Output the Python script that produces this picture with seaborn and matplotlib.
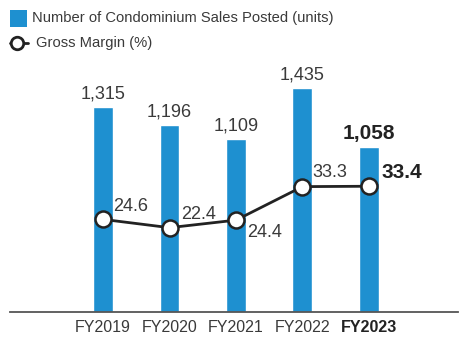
import matplotlib
matplotlib.use("Agg")
import matplotlib.pyplot as plt
from matplotlib.patches import Rectangle
from matplotlib.lines import Line2D
from matplotlib.transforms import Affine2D
import numpy as np
import pandas as pd
import seaborn as sns

years = ["FY2019", "FY2020", "FY2021", "FY2022", "FY2023"]
units = [1315, 1196, 1109, 1435, 1058]
margin = [24.6, 22.4, 24.4, 33.3, 33.4]
unit_labels = ["1,315", "1,196", "1,109", "1,435", "1,058"]
legend_labels = ["Number of Condominium Sales Posted (units)", "Gross Margin (%)"]

sns.set_theme(style="white")
plt.rcParams["font.family"] = ["Liberation Sans", "DejaVu Sans"]

BLUE = "#1e90d0"
TEXT = "#3a3a3a"
DARK = "#222222"

W, H = 461, 342
fig = plt.figure(figsize=(W / 100, H / 100), dpi=100)
ax = fig.add_axes([10 / W, 30 / H, 448 / W, 250 / H])

df = pd.DataFrame({"year": years, "units": units})
sns.barplot(data=df, x="year", y="units", color=BLUE, width=0.30,
            saturation=1, ax=ax)
ax.set_ylim(0, 1600)
ax.set_xlim(-1.40, 5.34)
ax.set_xlabel("")
ax.set_ylabel("")
ax.set_yticks([])
for s in ["top", "right", "left"]:
    ax.spines[s].set_visible(False)
ax.spines["bottom"].set_color("#555555")
ax.spines["bottom"].set_linewidth(1.3)
ax.tick_params(axis="x", length=0, pad=6, labelsize=11.5, colors=TEXT)
for lbl in ax.get_xticklabels():
    if lbl.get_text() == "FY2023":
        lbl.set_fontweight("bold")
        lbl.set_color(DARK)

for i, (v, t) in enumerate(zip(units, unit_labels)):
    last = i == len(units) - 1
    ax.annotate(t, (i, v), xytext=(0, 3), textcoords="offset points",
                ha="center", va="bottom",
                fontsize=15 if last else 13,
                fontweight="bold" if last else "normal",
                color=DARK if last else TEXT)

ax2 = ax.twinx()
xs = np.arange(len(years))
ax2.plot(xs, margin, color=DARK, lw=2, marker="o", ms=11.5,
         mfc="white", mec=DARK, mew=1.8, zorder=5)
ax2.set_ylim(0, 66.4)
ax2.set_yticks([])
for s in ["top", "right", "left", "bottom"]:
    ax2.spines[s].set_visible(False)

offsets = [(7, 3, "bottom"), (8, 3, "bottom"), (8, -3, "top"),
           (7, 4, "bottom"), (9, 10, "center")]
for i, (v, (dx, dy, va)) in enumerate(zip(margin, offsets)):
    last = i == len(margin) - 1
    ax2.annotate(f"{v:.1f}", (i, v), xytext=(dx, dy), textcoords="offset points",
                 ha="left", va=va,
                 fontsize=15 if last else 13,
                 fontweight="bold" if last else "normal",
                 color=DARK if last else TEXT)

# legend drawn in figure pixel coordinates (origin at top-left)
px = Affine2D().scale(1 / W, -1 / H).translate(0, 1) + fig.transFigure
fig.add_artist(Rectangle((10, 10), 17, 17, facecolor=BLUE, edgecolor="none",
                         transform=px))
fig.text(32, 18, legend_labels[0], transform=px, fontsize=10.6, color=TEXT,
         va="center", ha="left")
fig.add_artist(Line2D([10, 28], [43, 43], color=DARK, lw=2, transform=px))
fig.add_artist(Line2D([17], [43], marker="o", ms=9, mfc="white", mec=DARK,
                      mew=2, transform=px))
fig.text(36, 43, legend_labels[1], transform=px, fontsize=10.6, color=TEXT,
         va="center", ha="left")

fig.savefig("out.png", dpi=100)
